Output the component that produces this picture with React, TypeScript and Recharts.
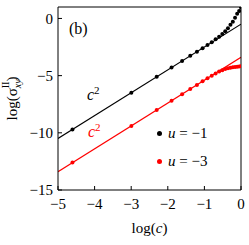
import { ComposedChart, Line, Scatter, XAxis, YAxis } from 'recharts'

// log(c) sample points, c = 0.01, 0.05, 0.10 ... 1.00
const logC = [-4.605, -2.996, -2.303, -1.897, -1.609, -1.386, -1.204, -1.05, -0.916, -0.799, -0.693, -0.598, -0.511, -0.431, -0.357, -0.288, -0.223, -0.163, -0.105, -0.051, 0]
// log(sigma_xy^II) for u = -1 and u = -3
const sigmaU1 = [-9.7, -6.5, -5.1, -4.29, -3.72, -3.27, -2.91, -2.6, -2.33, -2.08, -1.83, -1.6, -1.36, -1.12, -0.86, -0.55, -0.3, 0.05, 0.42, 0.65, 0.95]
const sigmaU3 = [-12.6, -9.4, -8.0, -7.19, -6.62, -6.17, -5.81, -5.5, -5.23, -5.0, -4.82, -4.65, -4.52, -4.43, -4.36, -4.31, -4.27, -4.24, -4.22, -4.2, -4.18]
// c^2 fits
const fitX = [-5, 0]
const fitU1 = [-10.5, -0.5]
const fitU3 = [-13.4, -3.4]

const xTicks = [-5, -4, -3, -2, -1, 0]
const yTicks = [-15, -10, -5, 0]

const RED = '#ff0000'
const FONT = '"Liberation Serif", "Times New Roman", serif'

const ptsU1 = logC.map((x, i) => ({ x, y: sigmaU1[i] }))
const ptsU3 = logC.map((x, i) => ({ x, y: sigmaU3[i] }))
const lineU1 = fitX.map((x, i) => ({ x, y: fitU1[i] }))
const lineU3 = fitX.map((x, i) => ({ x, y: fitU3[i] }))

const fmt = (v: number) => (v < 0 ? `\u2212${Math.abs(v)}` : `${v}`)

const dot = (color: string) => (p: { cx?: number; cy?: number }) => (
  <circle cx={p.cx} cy={p.cy} r={2} fill={color} />
)

function YLabel(props: { viewBox?: { x: number; y: number; width: number; height: number } }) {
  const vb = props.viewBox ?? { x: 0, y: 0, width: 0, height: 0 }
  const cx = vb.x + 17
  const cy = vb.y + vb.height / 2
  return (
    <text x={cx} y={cy} textAnchor="middle" transform={`rotate(-90, ${cx}, ${cy})`}
      fontFamily={FONT} fontSize={15} fill="#000">
      log(σ
      <tspan fontSize={10} fontStyle="italic" dy={4}>xy</tspan>
      <tspan fontSize={10} dx={-9} dy={-12}>II</tspan>
      <tspan dy={8}>)</tspan>
    </text>
  )
}

function XLabel(props: { viewBox?: { x: number; y: number; width: number; height: number } }) {
  const vb = props.viewBox ?? { x: 0, y: 0, width: 0, height: 0 }
  return (
    <text x={vb.x + vb.width / 2} y={233} textAnchor="middle" fontFamily={FONT} fontSize={15} fill="#000">
      log(<tspan fontStyle="italic">c</tspan>)
    </text>
  )
}

export default function App() {
  const tickStyle = { fill: '#000', fontSize: 15, fontFamily: FONT }
  return (
    <div style={{ position: 'absolute', left: 0, top: 0, width: 249, height: 245, fontFamily: FONT }}>
      <ComposedChart width={249} height={245} margin={{ top: 6, right: 7, bottom: 0, left: 0 }}>
        <XAxis xAxisId="b" dataKey="x" type="number" domain={[-5, 0]} ticks={xTicks} orientation="bottom"
          height={55} tickSize={-4} tickMargin={12} tickFormatter={fmt} tick={tickStyle}
          stroke="#000" allowDataOverflow label={<XLabel />} />
        <XAxis xAxisId="t" dataKey="x" type="number" domain={[-5, 0]} ticks={xTicks} orientation="top"
          height={1} tickSize={-4} tick={false} stroke="#000" allowDataOverflow />
        <YAxis yAxisId="l" dataKey="y" type="number" domain={[-15, 1]} ticks={yTicks} orientation="left"
          width={58} tickSize={-4} tickMargin={9} tickFormatter={fmt} tick={tickStyle}
          stroke="#000" allowDataOverflow label={<YLabel />} />
        <YAxis yAxisId="r" dataKey="y" type="number" domain={[-15, 1]} ticks={yTicks} orientation="right"
          width={1} tickSize={-4} tick={false} stroke="#000" allowDataOverflow />
        <Line xAxisId="b" yAxisId="l" data={lineU1} dataKey="y" stroke="#000" strokeWidth={1.2}
          dot={false} isAnimationActive={false} />
        <Line xAxisId="b" yAxisId="l" data={lineU3} dataKey="y" stroke={RED} strokeWidth={1.2}
          dot={false} isAnimationActive={false} />
        <Scatter xAxisId="b" yAxisId="l" data={ptsU1} dataKey="y" shape={dot('#000')} isAnimationActive={false} />
        <Scatter xAxisId="b" yAxisId="l" data={ptsU3} dataKey="y" shape={dot(RED)} isAnimationActive={false} />
      </ComposedChart>

      <div style={{ position: 'absolute', left: 69, top: 20, fontSize: 16 }}>(b)</div>
      <div style={{ position: 'absolute', left: 87, top: 84, fontSize: 16, color: '#000' }}>
        <i>c</i><sup style={{ fontSize: 11 }}>2</sup>
      </div>
      <div style={{ position: 'absolute', left: 88, top: 121, fontSize: 16, color: RED }}>
        <i>c</i><sup style={{ fontSize: 11 }}>2</sup>
      </div>

      {[{ c: '#000', t: '\u22121', top: 125 }, { c: RED, t: '\u22123', top: 153 }].map((l) => (
        <div key={l.t} style={{ position: 'absolute', left: 157, top: l.top, fontSize: 15, display: 'flex', alignItems: 'center', whiteSpace: 'nowrap' }}>
          <span style={{ width: 5, height: 5, borderRadius: '50%', background: l.c, display: 'inline-block', marginRight: 6 }} />
          <span><i>u</i> = {l.t}</span>
        </div>
      ))}
    </div>
  )
}
